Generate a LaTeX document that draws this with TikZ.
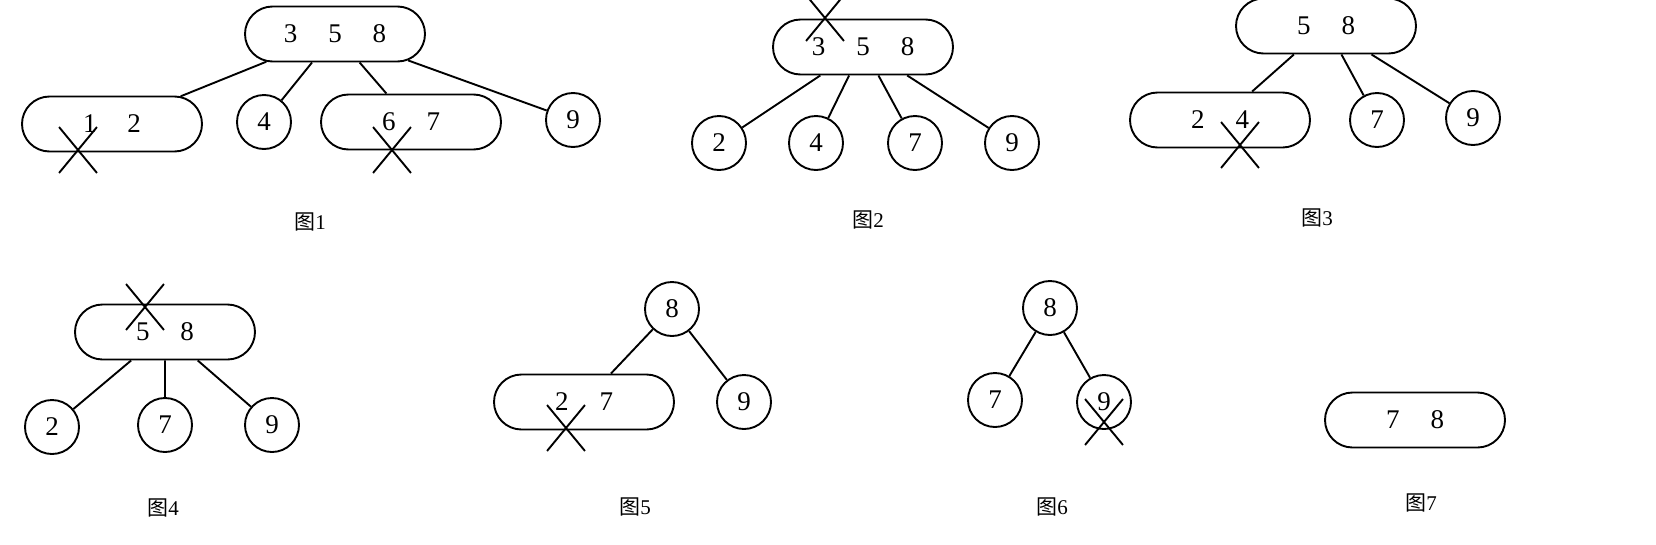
\documentclass[tikz,border=0pt]{standalone}
\usepackage{fontspec}
\setmainfont{Liberation Serif}
\newfontfamily\cjk{Noto Sans CJK SC}
\usetikzlibrary{shapes.misc}
\newcommand{\kgap}{\hspace{31pt}}
\begin{document}
\begin{tikzpicture}[x=1pt,y=-1pt,line width=1.9pt,
  pill/.style={draw,rounded rectangle,minimum width=180,minimum height=55,inner sep=0pt,font=\fontsize{27}{29}\selectfont},
  ball/.style={draw,circle,minimum size=54,inner sep=0pt,font=\fontsize{27}{29}\selectfont},
  xmark/.style={draw,cross out,minimum width=36,minimum height=44,inner sep=0pt},
  figcap/.style={font=\fontsize{21}{23}\selectfont}]
\useasboundingbox (0,0) rectangle (1656,544);
% fig 1
\node[pill](r1) at (335,34) {3\kgap5\kgap8};
\node[pill](a1) at (112,124) {1\kgap2};
\node[ball](b1) at (264,122) {4};
\node[pill](c1) at (411,122) {6\kgap7};
\node[ball](d1) at (573,120) {9};
\foreach \k in {a1,b1,c1,d1} \draw (r1) -- (\k);
\node[xmark](x1) at (78,150) {};
\node[xmark](x2) at (392,150) {};
\node[figcap](f1) at (310,222) {{\cjk 图}1};
% fig 2
\node[pill](r2) at (863,47) {3\kgap5\kgap8};
\node[ball](a2) at (719,143) {2};
\node[ball](b2) at (816,143) {4};
\node[ball](c2) at (915,143) {7};
\node[ball](d2) at (1012,143) {9};
\foreach \k in {a2,b2,c2,d2} \draw (r2) -- (\k);
\node[xmark](x3) at (825,18) {};
\node[figcap](f2) at (868,220) {{\cjk 图}2};
% fig 3
\node[pill](r3) at (1326,26) {5\kgap8};
\node[pill](a3) at (1220,120) {2\kgap4};
\node[ball](b3) at (1377,120) {7};
\node[ball](c3) at (1473,118) {9};
\foreach \k in {a3,b3,c3} \draw (r3) -- (\k);
\node[xmark](x4) at (1240,145) {};
\node[figcap](f3) at (1317,218) {{\cjk 图}3};
% fig 4
\node[pill](r4) at (165,332) {5\kgap8};
\node[ball](a4) at (52,427) {2};
\node[ball](b4) at (165,425) {7};
\node[ball](c4) at (272,425) {9};
\foreach \k in {a4,b4,c4} \draw (r4) -- (\k);
\node[xmark](x5) at (145,307) {};
\node[figcap](f4) at (163,508) {{\cjk 图}4};
% fig 5
\node[ball](r5) at (672,309) {8};
\node[pill](a5) at (584,402) {2\kgap7};
\node[ball](b5) at (744,402) {9};
\foreach \k in {a5,b5} \draw (r5) -- (\k);
\node[xmark](x6) at (566,428) {};
\node[figcap](f5) at (635,507) {{\cjk 图}5};
% fig 6
\node[ball](r6) at (1050,308) {8};
\node[ball](a6) at (995,400) {7};
\node[ball](b6) at (1104,402) {9};
\foreach \k in {a6,b6} \draw (r6) -- (\k);
\node[xmark](x7) at (1104,422) {};
\node[figcap](f6) at (1052,507) {{\cjk 图}6};
% fig 7
\node[pill](r7) at (1415,420) {7\kgap8};
\node[figcap](f7) at (1421,503) {{\cjk 图}7};
\end{tikzpicture}
\end{document}
